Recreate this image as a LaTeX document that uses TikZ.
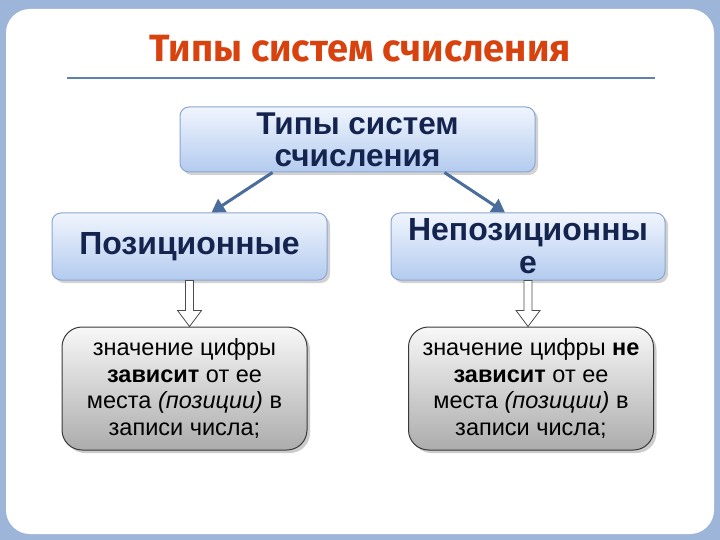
\documentclass[tikz,border=0pt]{standalone}
\usepackage{fontspec}
\setmainfont{Liberation Sans}
\newfontfamily\titlefont{Fira Sans}
\usepackage{tikz}
\usetikzlibrary{arrows.meta,shadows,calc}

\definecolor{frameblue}{HTML}{9DB5D8}
\definecolor{titlered}{HTML}{D8420F}
\definecolor{ruleblue}{HTML}{5F82AC}
\definecolor{boxtop}{HTML}{F0F5FD}
\definecolor{boxbottom}{HTML}{B3CBEF}
\definecolor{boxline}{HTML}{8AA6D2}
\definecolor{navytext}{HTML}{14244F}
\definecolor{linkblue}{HTML}{4A6D9C}

% hollow block arrow between two nodes
\newcommand{\hollowarrow}[2]{%
  \path let \p1=(#1.south), \p2=(#2.north) in
    [draw=gray!60!black,fill=white,line width=0.8pt]
    (\x1-4pt,\y1) -- (\x1-4pt,\y2+16pt) -- (\x1-12pt,\y2+16pt) -- (\x1,\y2)
    -- (\x1+12pt,\y2+16pt) -- (\x1+4pt,\y2+16pt) -- (\x1+4pt,\y1) -- cycle;}

\begin{document}
\begin{tikzpicture}[x=1pt,y=-1pt,>={Triangle[length=13pt,width=15pt]},
  bluebox/.style={draw=boxline,line width=1pt,rounded corners=9pt,top color=boxtop,bottom color=boxbottom,
    drop shadow={opacity=0.35,shadow xshift=3pt,shadow yshift=-3pt},align=center,inner sep=1pt,
    font=\bfseries\fontsize{32}{33}\selectfont\color{navytext}},
  leafbox/.style={draw=gray!45!black,line width=1pt,rounded corners=20pt,top color=gray!6,bottom color=gray!65,
    drop shadow={opacity=0.4,shadow xshift=3pt,shadow yshift=-3pt},font=\fontsize{23.5}{26.5}\selectfont,align=center,
    minimum width=245pt,minimum height=123pt,inner sep=1pt},
  link/.style={->,draw=linkblue,line width=3pt}]

  % page background
  \fill[frameblue] (0,0) rectangle (720,540);
  \fill[white,rounded corners=24pt] (6,9) rectangle (714,534);
  \useasboundingbox (0,0) rectangle (720,540);

  % title
  \node[font=\titlefont\bfseries\fontsize{38}{42}\selectfont,text=titlered] (title) at (360,49) {Типы систем счисления};
  \draw[ruleblue,line width=1.5pt] (67,78) -- (655,78);

  \node[bluebox,minimum width=355pt,minimum height=65pt,font=\bfseries\fontsize{31.5}{32}\selectfont\color{navytext}] (types) at (357.5,139.5) {Типы систем\\счисления};
  \node[bluebox,minimum width=275pt,minimum height=67pt] (pos) at (189.5,246.5) {Позиционные};
  \node[bluebox,minimum width=274pt,minimum height=67pt] (nonpos) at (528,246.5) {Непозиционны\\е};

  \node[leafbox] (posleaf) at (184.5,388.5) {значение цифры\\\textbf{зависит} от ее\\места \textit{(позиции)} в\\записи числа;};
  \node[leafbox] (nonposleaf) at (531,388.5) {значение цифры \textbf{не}\\\textbf{зависит} от ее\\места \textit{(позиции)} в\\записи числа;};

  \draw[link] ([xshift=-85pt]types.south) -- ([xshift=22pt]pos.north);
  \draw[link] ([xshift=87pt]types.south) -- ([xshift=-23pt]nonpos.north);

  \hollowarrow{pos}{posleaf}
  \hollowarrow{nonpos}{nonposleaf}
\end{tikzpicture}
\end{document}
